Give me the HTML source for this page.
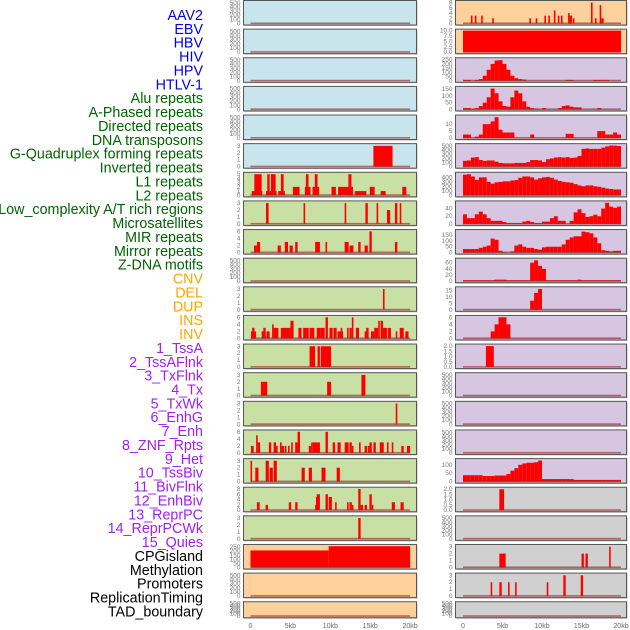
<!DOCTYPE html>
<html><head><meta charset="utf-8"><style>
html,body{margin:0;padding:0;background:#fff;}
svg{display:block;}
text{font-family:"Liberation Sans",sans-serif;}
</style></head><body>
<svg id="chart" width="630" height="630" xmlns="http://www.w3.org/2000/svg"></svg>
<script>
// ---- labels ----
const labels = ["AAV2","EBV","HBV","HIV","HPV","HTLV-1","Alu repeats","A-Phased repeats","Directed repeats","DNA transposons","G-Quadruplex forming repeats","Inverted repeats","L1 repeats","L2 repeats","Low_complexity A/T rich regions","Microsatellites","MIR repeats","Mirror repeats","Z-DNA motifs","CNV","DEL","DUP","INS","INV","1_TssA","2_TssAFlnk","3_TxFlnk","4_Tx","5_TxWk","6_EnhG","7_Enh","8_ZNF_Rpts","9_Het","10_TssBiv","11_BivFlnk","12_EnhBiv","13_ReprPC","14_ReprPCWk","15_Quies","CPGisland","Methylation","Promoters","ReplicationTiming","TAD_boundary"];
const labelColors = ["#0000ee","#0000ee","#0000ee","#0000ee","#0000ee","#0000ee","#006400","#006400","#006400","#006400","#006400","#006400","#006400","#006400","#006400","#006400","#006400","#006400","#006400","#ffa500","#ffa500","#ffa500","#ffa500","#ffa500","#a020f0","#a020f0","#a020f0","#a020f0","#a020f0","#a020f0","#a020f0","#a020f0","#a020f0","#a020f0","#a020f0","#a020f0","#a020f0","#a020f0","#a020f0","#000","#000","#000","#000","#000"];
const xTickValues = [0,5,10,15,20];
const xTickLabels = ["0","5kb","10kb","15kb","20kb"];
// ---- tick sets ----
const T500 = [0,100,200,300,400,500];
const T3 = [0,1,2,3];
const T5 = [0,1,2,3,4,5];
const T6 = [0,2,4,6];
const T8 = [0,2,4,6,8];
// ---- left column segments [startKb, endKb, value] ----
const L5 = [[15.4,17.8,3]];
const L6 = [[0.15,1.48,1],[0.48,1.4,5],[1.94,3.27,1],[2.1,2.4,5],[2.56,3.15,5],[3.48,4.31,1],[3.81,4.15,5],[5.31,6.15,2],[6.81,7.52,2],[6.94,7.27,5],[7.77,8.6,2],[8.06,8.4,5],[10.15,10.7,2],[10.98,12.85,2],[12.27,12.65,5],[13.06,14.52,1],[14.94,15.56,2],[16.31,16.94,1],[19.02,19.52,2]];
const L7 = [[1.94,2.27,3],[6.65,6.85,3],[11.8,12.0,3],[14.4,14.7,3],[15.8,16.0,3],[17.1,17.5,2],[18.1,18.4,3],[18.7,18.9,3]];
const L8 = [[0.44,0.81,2],[0.81,1.2,3],[3.4,3.8,2],[4.3,4.7,3],[4.9,5.3,2],[5.6,5.9,3],[8.1,8.7,3],[9.4,9.6,3],[11.8,12.3,3],[12.4,12.9,2],[13.5,13.8,3],[14.3,14.7,2],[14.9,15.2,6],[18.1,18.4,3]];
const L10 = [[16.6,16.8,3]];
const L11 = [[0.06,0.7,2],[0.2,0.5,3],[1.4,1.9,2],[1.6,1.9,3],[2.0,2.4,2],[2.7,2.9,4],[2.9,3.5,3],[3.8,5.0,3],[5.0,5.4,5],[6.0,6.4,3],[6.6,7.3,3],[7.4,8.0,3],[8.3,8.8,3],[8.8,9.3,3],[9.4,9.7,6],[9.9,10.3,3],[10.4,10.8,3],[10.9,11.6,2],[11.3,11.5,3],[12.1,12.3,3],[12.4,12.7,3],[12.7,12.9,6],[13.2,13.6,3],[14.3,14.8,2],[14.5,14.8,3],[15.1,15.5,2],[15.5,16.0,3],[16.0,16.2,5],[16.3,16.6,5],[16.6,17.1,3],[17.2,17.6,3],[18.2,18.4,2],[18.7,19.2,3],[19.4,19.8,2]];
const L12 = [[7.4,8.1,3],[8.4,8.7,3],[8.8,10.1,3]];
const L13 = [[1.3,2.1,2],[9.6,10.1,2],[13.9,14.4,3]];
const L14 = [[18.2,18.4,3]];
const L15 = [[0.06,0.4,2],[0.7,0.9,5],[0.9,1.2,3],[2.3,2.6,3],[2.9,3.2,3],[3.2,3.4,2],[3.7,3.9,3],[3.9,4.2,2],[4.3,4.5,2],[4.7,4.9,2],[5.1,5.3,3],[5.6,5.9,3],[5.9,6.2,6],[7.3,7.6,2],[7.6,7.8,3],[7.8,8.7,3],[9.4,9.7,6],[10.3,10.6,3],[10.9,11.3,3],[11.8,12.3,3],[12.4,12.7,3],[12.7,12.9,2],[13.6,13.8,3],[14.3,14.6,2],[14.7,14.9,2],[14.9,15.2,3],[15.4,15.7,3],[16.2,16.7,3],[17.1,17.3,3],[17.7,17.9,3],[18.9,19.2,2],[19.6,20.0,2]];
const L16 = [[0.0,0.2,3],[0.6,1.0,2],[1.9,2.3,3],[2.4,2.8,2],[2.9,3.3,3],[6.4,6.8,2],[7.3,7.7,2],[8.9,9.4,2],[10.8,11.2,2]];
const L17 = [[0.8,1.15,3],[1.9,2.2,2],[4.8,5.1,3],[5.6,5.9,3],[8.1,8.3,2],[8.2,8.4,5],[8.3,8.7,6],[9.4,9.7,6],[9.8,10.2,5],[10.6,10.8,3],[12.1,12.3,3],[12.4,12.7,3],[12.7,12.9,2],[13.5,13.8,8],[13.8,14.1,2],[14.3,14.6,2],[14.9,15.2,6],[15.2,15.4,2],[17.7,18.1,3],[18.8,19.2,3]];
const L18 = [[13.5,13.8,3]];
const L19 = [[0.0,9.8,210],[9.8,20.0,262]];
// ---- right column 0.5kb bins / segments ----
const R0 = [[1.0,1.2,3],[1.5,1.7,3],[2.3,2.5,3],[3.7,3.9,2],[8.4,8.6,2],[9.2,9.4,2],[10.3,10.5,3],[10.8,11.0,3],[11.5,11.7,5],[12.0,12.2,3],[12.4,12.6,3],[13.3,13.5,4],[13.5,13.8,3],[13.9,14.1,2],[16.2,16.4,8],[16.7,16.9,2],[17.3,17.5,7],[17.5,17.8,2]];
const R1 = [[0,20,10]];
const R2 = [10,10,0,10,20,60,130,200,240,245,200,130,60,30,20,15,0,0,0,0,0,0,0,0,0,0,10,10,0,0,0,0,0,10,10,10,10,0,0,0];
const R3 = [10,10,5,10,25,50,90,155,120,60,25,20,90,140,120,60,20,10,5,0,10,0,0,0,10,25,30,20,15,15,0,0,0,0,10,0,0,0,0,0];
const R4 = [2.5,2.5,0,1,2.5,10,10,12,15,6,4,4,4,0,0,0,0,2.5,0,0,0,0,0,0,0,0,3,3,0,0,0,0,0,0,5,5,2.5,2.5,4,2.5];
const R5 = [140,150,220,230,160,140,150,150,120,90,80,80,80,90,90,90,110,160,160,150,110,180,200,220,230,220,230,210,220,260,430,440,430,430,430,460,490,510,510,500];
const R6 = [460,470,420,340,400,400,300,260,290,300,310,310,330,340,390,420,420,400,350,380,400,410,390,350,320,300,290,280,250,220,200,220,220,200,190,170,150,140,130,130];
const R7 = [25,15,15,25,32,25,15,8,8,8,5,2,2,2,2,6,8,5,2,2,6,6,15,20,8,8,0,8,30,38,28,18,20,24,20,40,55,45,42,45];
const R8 = [30,30,30,30,40,50,60,120,110,15,5,0,10,60,70,50,40,40,30,25,45,50,50,50,50,70,110,130,140,140,180,175,165,130,80,20,15,10,15,15];
const R9 = [3,3,3,3,3,3,3,3,5,5,5,3,3,3,3,3,3,60,68,50,40,3,3,3,3,3,3,3,3,5,3,3,3,3,3,3,3,3,3,3];
const R10 = [0,0,0,0,0,0,0,0,0,0,0,0,0,0,0,0,0,7,13,16,0,0,0,0,0,0,0,0,0,0,0,0,0,0,0,0,0,0,0,0];
const R11 = [0,0,0,0,0,0,0,2,4,6,6,4,0,0,0,0,0,0,0,0,0,0,0,0,0,0,0,0,0,0,0,0,0,0,0,0,0,0,0,0];
const R12 = [[2.9,3.9,2]];
const R16 = [38,38,38,38,38,33,33,33,36,36,36,45,65,80,100,108,112,112,115,125,15,15,15,15,15,15,15,15,10,10,10,10,10,10,10,10,10,10,10,10];
const R17 = [[4.6,5.2,2]];
const R19 = [[4.6,5.4,2],[15.0,15.3,2],[15.5,15.8,2],[18.5,18.7,3]];
const R20 = [[3.5,3.7,2],[4.6,4.9,2],[5.7,5.9,2],[6.6,6.8,2],[10.6,10.8,2],[12.7,13.0,3],[14.9,15.2,3]];

const BLUE="#c8e4ec", GREEN="#c8e0a4", PEACH="#fdd09c", LAV="#d6c6e2", GRAY="#d0d0d0";
const leftPanels = [
 {bg:BLUE,t:T500,max:520},{bg:BLUE,t:T500,max:520},{bg:BLUE,t:T500,max:520},{bg:BLUE,t:T500,max:520},{bg:BLUE,t:T500,max:520},
 {bg:BLUE,t:T3,max:3.1,s:L5},{bg:GREEN,t:T5,max:5.1,s:L6},{bg:GREEN,t:T3,max:3.1,s:L7},{bg:GREEN,t:T6,max:6.1,s:L8},
 {bg:GREEN,t:T500,max:520},{bg:GREEN,t:T3,max:3.1,s:L10},{bg:GREEN,t:T6,max:6.1,s:L11},{bg:GREEN,t:T3,max:3.1,s:L12},
 {bg:GREEN,t:T3,max:3.1,s:L13},{bg:GREEN,t:T3,max:3.1,s:L14},{bg:GREEN,t:T6,max:6.1,s:L15},{bg:GREEN,t:T3,max:3.1,s:L16},
 {bg:GREEN,t:T8,max:8.1,s:L17},{bg:GREEN,t:T3,max:3.1,s:L18},{bg:PEACH,t:[0,50,100,150,200,250],max:265,s:L19},
 {bg:PEACH,t:T500,max:520},{bg:PEACH,t:T500,max:520}];
const rightPanels = [
 {bg:PEACH,t:T8,max:8.2,s:R0},{bg:PEACH,t:[0,2.5,5,7.5,10],max:10,s:R1,lbl:["0.0","2.5","5.0","7.5","10.0"]},
 {bg:LAV,t:[0,50,100,150,200,250],max:255,b:R2},{bg:LAV,t:[0,50,100,150],max:160,b:R3},{bg:LAV,t:[0,5,10],max:15.5,b:R4},
 {bg:LAV,t:T500,max:520,b:R5},{bg:LAV,t:[0,100,200,300,400],max:480,b:R6},{bg:LAV,t:[0,20,40],max:56,b:R7},
 {bg:LAV,t:[0,50,100,150],max:185,b:R8},{bg:LAV,t:[0,20,40,60],max:70,b:R9},{bg:LAV,t:[0,5,10,15],max:16.5,b:R10},
 {bg:LAV,t:T6,max:6.1,b:R11},{bg:LAV,t:[0,0.5,1,1.5,2],max:2.05,s:R12,lbl:["0.0","0.5","1.0","1.5","2.0"]},
 {bg:LAV,t:T500,max:520},{bg:LAV,t:T500,max:520},{bg:LAV,t:T500,max:520},{bg:LAV,t:[0,50,100],max:128,b:R16},
 {bg:GRAY,t:[0,0.5,1,1.5,2],max:2.05,s:R17,lbl:["0.0","0.5","1.0","1.5","2.0"]},{bg:GRAY,t:T500,max:520},
 {bg:GRAY,t:T3,max:3.1,s:R19},{bg:GRAY,t:T3,max:3.1,s:R20},{bg:GRAY,t:T500,max:520}];

const NS="http://www.w3.org/2000/svg";
const svg=document.getElementById('chart');
function mk(tag,attrs,parent){const e=document.createElementNS(NS,tag);for(const k in attrs)e.setAttribute(k,attrs[k]);(parent||svg).appendChild(e);return e;}

// labels
labels.forEach((l,i)=>{
 const t=mk('text',{x:203,y:20+i*13.87,'text-anchor':'end','font-size':14.3,fill:labelColors[i]});
 
 
 t.textContent=l;
});

const cols=[{x0:243.5,x1:416.5,z:250.5,k:7.98,panels:leftPanels,name:'left'},{x0:455.5,x1:626.5,z:463,k:7.9,panels:rightPanels,name:'right'}];
cols.forEach(c=>{
 const xs=kb=>c.z+kb*c.k;
 c.panels.forEach((p,i)=>{
  const top=0.5+i*28.63, h=(i===21?16:24.5), bot=top+h;
  const g=mk('g',{});
  
  
  mk('rect',{x:c.x0+1,y:top+1,width:c.x1-c.x0,height:h,fill:'#bbb'},g);
  mk('rect',{x:c.x0,y:top,width:c.x1-c.x0,height:h,fill:p.bg,stroke:'#555','stroke-width':1},g);
  const y0=bot-1.5, yt=top+1.5;
  const ys=v=>y0-(v/p.max)*(y0-yt);
  const drawSeg=(a,b,v)=>{if(v<=0)return;const r=mk('rect',{x:xs(a),y:ys(v),width:Math.max(xs(b)-xs(a),1.2),height:y0-ys(v),fill:'#ff0000'},g);
   
   };
  if(p.s)p.s.forEach(s=>drawSeg(s[0],s[1],s[2]));
  if(p.b)p.b.forEach((v,j)=>drawSeg(j*0.5,j*0.5+0.5,v));
  mk('rect',{x:xs(0),y:y0-1,width:xs(20)-xs(0),height:1.6,fill:'rgba(160,40,40,0.65)'},g);
  p.t.forEach((tv,j)=>{
   const tt=mk('text',{x:c.x0-3,y:ys(tv)+2,'text-anchor':'end','font-size':6.5,fill:'#777'},g);
   
   
   tt.textContent=p.lbl?p.lbl[j]:String(tv);
  });
 });
 xTickValues.forEach((v,j)=>{
  const t=mk('text',{x:xs(v),y:628,'text-anchor':'middle','font-size':7,fill:'#666'});
  
  
  t.textContent=xTickLabels[j];
 });
});
</script>
</body></html>
